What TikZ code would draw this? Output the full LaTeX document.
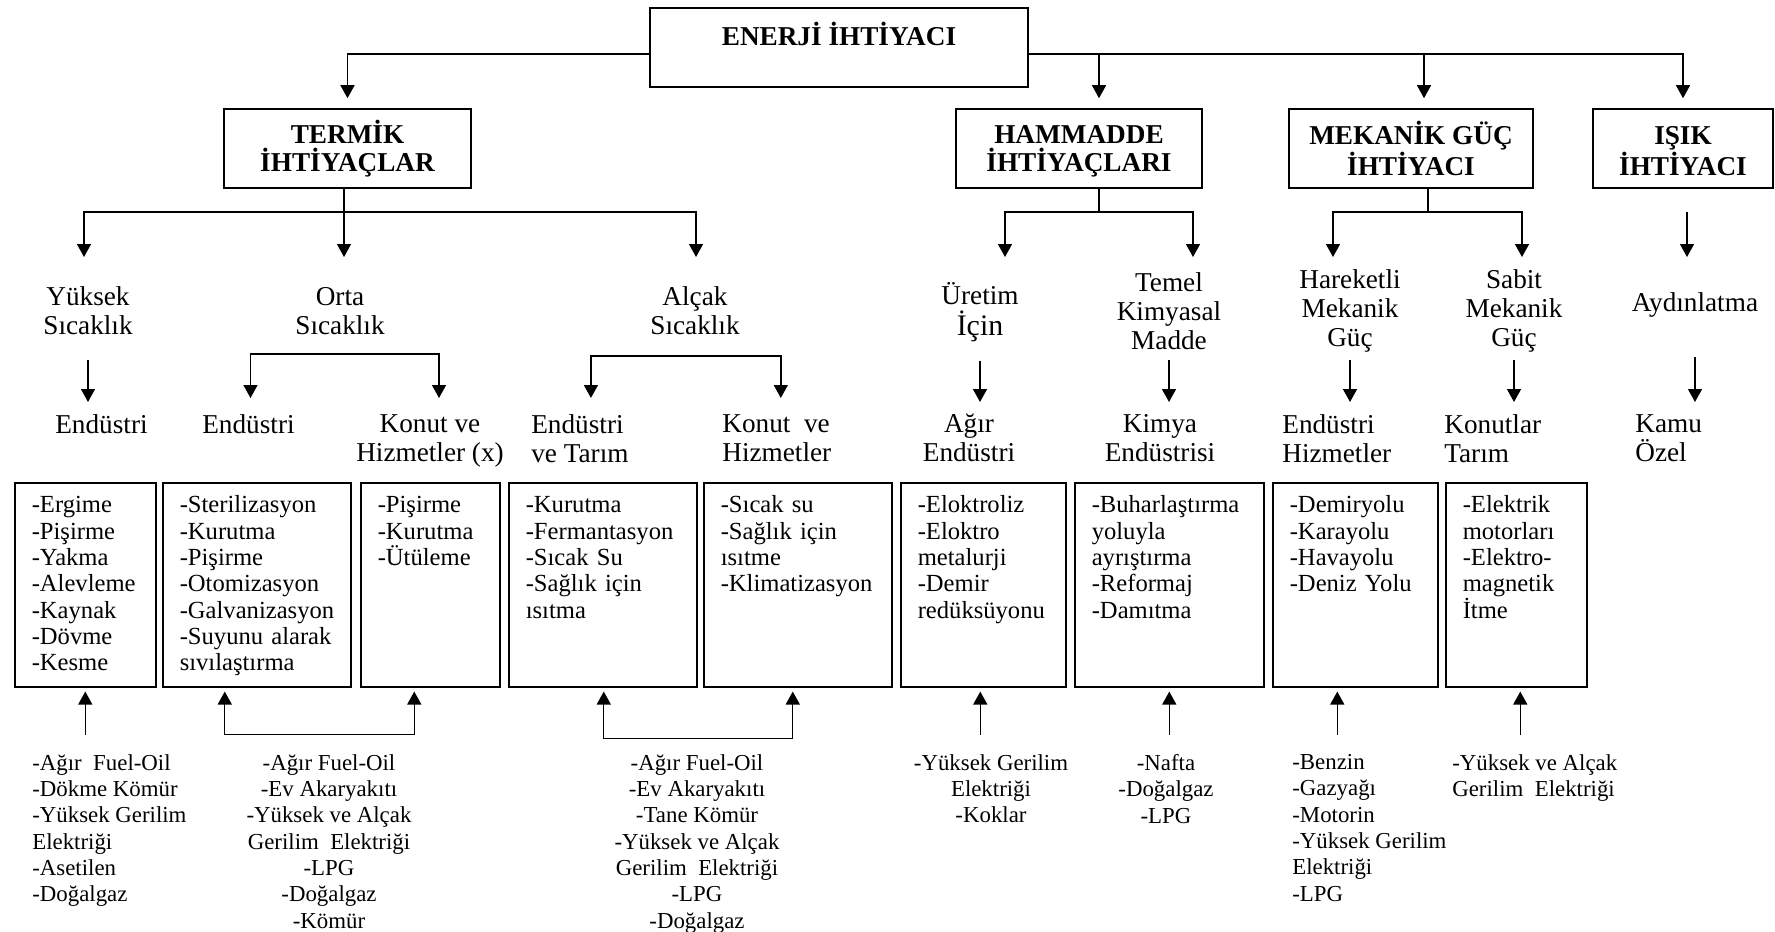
\documentclass[tikz,border=0pt]{standalone}
\usepackage{fontspec}
\setmainfont{Liberation Serif}
\usetikzlibrary{arrows.meta,positioning,calc}
\hyphenpenalty=10000
\exhyphenpenalty=10000

\begin{document}
\begin{tikzpicture}[x=0.02cm, y=-0.02cm,
    hdr/.style={draw, line width=0.9pt, align=center, inner sep=0pt, minimum height=1.58cm,
                font=\fontsize{15.5}{16}\selectfont\bfseries},
    lbl/.style={align=center, inner sep=0pt, font=\fontsize{15.5}{16.5}\selectfont},
    sub/.style={lbl, anchor=north},
    subl/.style={lbl, align=left, anchor=north west},
    listbox/.style={draw, line width=0.9pt, anchor=north west, align=left, inner xsep=0.34cm,
                    inner ysep=0pt, text height=0.6cm, text depth=3.48cm, font=\fontsize{14}{15}\selectfont},
    src/.style={align=center, inner sep=0pt, anchor=north, font=\fontsize{13}{15}\selectfont},
    srcl/.style={src, align=left, anchor=north west},
    line/.style={line width=0.8pt},
    arr/.style={line, -{Triangle[width=0.28cm,length=0.26cm]}},
    barr/.style={line, {Triangle[width=0.28cm,length=0.26cm]}-{Triangle[width=0.28cm,length=0.26cm]}},
    down/.style={arr, shorten <=0.98cm, shorten >=0.24cm}
]
\useasboundingbox (0,0) rectangle (1775,932);

% --- top ---
\node[hdr, minimum width=7.56cm] (enerji) at (839,47.5) {ENERJİ İHTİYACI\\\mbox{}};

% --- main needs ---
\node[hdr, minimum width=4.94cm] (termik)   at (347.5,148.5) {TERMİK\\İHTİYAÇLAR};
\node[hdr, minimum width=4.92cm] (hammadde) at (1079,148.5)  {HAMMADDE\vphantom{İ}\\İHTİYAÇLARI};
\node[hdr, minimum width=4.88cm] (mekanik)  at (1411,148.5)  {MEKANİK GÜÇ\\İHTİYACI};
\node[hdr, minimum width=3.60cm] (isik)     at (1683,148.5)  {IŞIK\vphantom{İ}\\İHTİYACI};

% --- second level ---
\node[lbl] (yuksek)    at (88,311)   {Yüksek\\Sıcaklık};
\node[lbl] (orta)      at (340,311)  {Orta\\Sıcaklık};
\node[lbl] (alcak)     at (695,311)  {Alçak\\Sıcaklık};
\node[lbl] (uretim)    at (980,312)  {Üretim\\[1pt]{\fontsize{17}{17}\selectfont İçin}};
\node[lbl] (temel)     at (1169,311) {Temel\\Kimyasal\\Madde};
\node[lbl] (hareketli) at (1350,311) {Hareketli\\Mekanik\\Güç};
\node[lbl] (sabit)     at (1514,311) {Sabit\\Mekanik\\Güç};
\node[lbl] (aydin)     at (1695,305) {Aydınlatma};

% --- sectors ---
\node[subl] (l1)  at (55,414)   {Endüstri};
\node[subl] (l2)  at (202,414)  {Endüstri};
\node[sub]  (l3)  at (430,414)  {Konut ve\\Hizmetler (x)};
\node[subl] (l4)  at (531,414)  {Endüstri\\ve Tarım};
\node[subl] (l5)  at (722,414)  {Konut\ \ ve\\Hizmetler};
\node[sub]  (l6)  at (969,414)  {Ağır\\Endüstri};
\node[sub]  (l7)  at (1160,414) {Kimya\\Endüstrisi};
\node[subl] (l8)  at (1282,414) {Endüstri\\Hizmetler};
\node[subl] (l9)  at (1444,414) {Konutlar\\Tarım};
\node[subl] (l10) at (1635,414) {Kamu\\Özel};

% --- process boxes ---
\node[listbox, text width=2.14cm] (b1) at (14,482)
    {-Ergime\\-Pişirme\\-Yakma\\-Alevleme\\-Kaynak\\-Dövme\\-Kesme};
\node[listbox, text width=3.08cm] (b2) at (162,482)
    {-Sterilizasyon\\-Kurutma\\-Pişirme\\-Otomizasyon\\-Galvanizasyon\\-Suyunu~alarak\\sıvılaştırma};
\node[listbox, text width=2.10cm] (b3) at (360,482)
    {-Pişirme\\-Kurutma\\-Ütüleme};
\node[listbox, text width=3.08cm] (b4) at (508,482)
    {-Kurutma\\-Fermantasyon\\-Sıcak~Su\\-Sağlık~için\\ısıtma};
\node[listbox, text width=3.08cm] (b5) at (703,482)
    {-Sıcak~su\\-Sağlık~için\\ısıtme\\-Klimatizasyon};
\node[listbox, text width=2.62cm] (b6) at (900,482)
    {-Eloktroliz\\-Eloktro\\metalurji\\-Demir\\redüksüyonu};
\node[listbox, text width=3.10cm] (b7) at (1074,482)
    {-Buharlaştırma\\yoluyla\\ayrıştırma\\-Reformaj\\-Damıtma};
\node[listbox, text width=2.62cm] (b8) at (1272,482)
    {-Demiryolu\\-Karayolu\\-Havayolu\\-Deniz~Yolu};
\node[listbox, text width=2.14cm] (b9) at (1445,482)
    {-Elektrik\\motorları\\-Elektro-\\magnetik\\İtme};

% --- energy sources ---
\node[srcl] (s1) at (32,754)  {-Ağır\ \ Fuel-Oil\\-Dökme Kömür\\-Yüksek Gerilim\\Elektriği\\-Asetilen\\-Doğalgaz};
\node[src]  (s2) at (329,754) {-Ağır Fuel-Oil\\-Ev Akaryakıtı\\-Yüksek ve Alçak\\Gerilim\ \ Elektriği\\-LPG\\-Doğalgaz\\-Kömür};
\node[src]  (s3) at (697,754) {-Ağır Fuel-Oil\\-Ev Akaryakıtı\\-Tane Kömür\\-Yüksek ve Alçak\\Gerilim\ \ Elektriği\\-LPG\\-Doğalgaz};
\node[src]  (s4) at (991,754) {-Yüksek Gerilim\\Elektriği\\-Koklar};
\node[src]  (s5) at (1166,754) {-Nafta\\-Doğalgaz\\-LPG};
\node[srcl] (s6) at (1292,754) {-Benzin\\-Gazyağı\\-Motorin\\-Yüksek Gerilim\\Elektriği\\-LPG};
\node[srcl] (s7) at (1452,754) {-Yüksek ve Alçak\\Gerilim\ \ Elektriği};

% --- junctions ---
\coordinate (hj) at (1099,54);
\coordinate (mj) at (1424,54);
\coordinate (tsp) at (344,212);
\coordinate (hsp) at (1099,212);
\coordinate (msp) at (1428,212);
\coordinate (isp) at (1687,212);
\coordinate (yk) at (84,257);
\coordinate (or) at (344,257);
\coordinate (al) at (696,257);
\coordinate (ur) at (1005,257);
\coordinate (tk) at (1193,257);
\coordinate (hr) at (1333,257);
\coordinate (sb) at (1522,257);
\coordinate (ay) at (1687,257);

% --- connections: top ---
\draw[arr, shorten >=0.2cm] ($(enerji.west)+(0,6.5)$) -| (termik);
\draw[arr, shorten >=0.2cm] ($(enerji.east)+(0,6.5)$) -| (isik);
\draw[arr, shorten >=0.2cm] (hj) -- (hj |- hammadde.north);
\draw[arr, shorten >=0.2cm] (mj) -- (mj |- mekanik.north);

% --- connections: needs to temperature / use ---
\draw[line] (termik.south -| tsp) -- (tsp);
\draw[arr] (tsp) -| (yk);
\draw[arr] (tsp) -- (or);
\draw[arr] (tsp) -| (al);
\draw[line] (hammadde.south -| hsp) -- (hsp);
\draw[arr] (hsp) -| (ur);
\draw[arr] (hsp) -| (tk);
\draw[line] (mekanik.south -| msp) -- (msp);
\draw[arr] (msp) -| (hr);
\draw[arr] (msp) -| (sb);
\draw[arr] (isp) -- (ay);

% --- connections: to sectors ---
\draw[down] (yuksek.center) -- (yuksek.center |- l1.north);
\draw[barr, shorten <=0.32cm, shorten >=0.32cm] ($(l2.north)+(2,0)$) -- ++(0,-60) -| ($(l3.north)+(9,0)$);
\draw[barr, shorten <=0.32cm, shorten >=0.32cm] ($(l4.north)+(11,0)$) -- ++(0,-58) -| ($(l5.north)+(4,0)$);
\draw[down] (uretim.center) -- (uretim.center |- l6.north);
\draw[down] (temel.center) -- (temel.center |- l7.north);
\draw[down] (hareketli.center) -- (hareketli.center |- l8.north);
\draw[down] (sabit.center) -- (sabit.center |- l9.north);
\draw[down, shorten <=1.04cm] (aydin.center) -- (aydin.center |- l10.north);

% --- connections: sources ---
\draw[arr, shorten >=0.08cm] ($(b1.south)+(0,47)$) -- (b1.south);
\draw[barr, shorten <=0.08cm, shorten >=0.08cm] ($(b2.south)+(-32,0)$) -- ++(0,47) -| ($(b3.south)+(-16,0)$);
\draw[barr, shorten <=0.08cm, shorten >=0.08cm] ($(b4.south)+(1,0)$) -- ++(0,51) -| ($(b5.south)+(-5,0)$);
\draw[arr, shorten >=0.08cm] ($(b6.south)+(-3,47)$) -- ($(b6.south)+(-3,0)$);
\draw[arr, shorten >=0.08cm] ($(b7.south)+(0,47)$) -- (b7.south);
\draw[arr, shorten >=0.08cm] ($(b8.south)+(-18,47)$) -- ($(b8.south)+(-18,0)$);
\draw[arr, shorten >=0.08cm] ($(b9.south)+(4,47)$) -- ($(b9.south)+(4,0)$);

\end{tikzpicture}
\end{document}
